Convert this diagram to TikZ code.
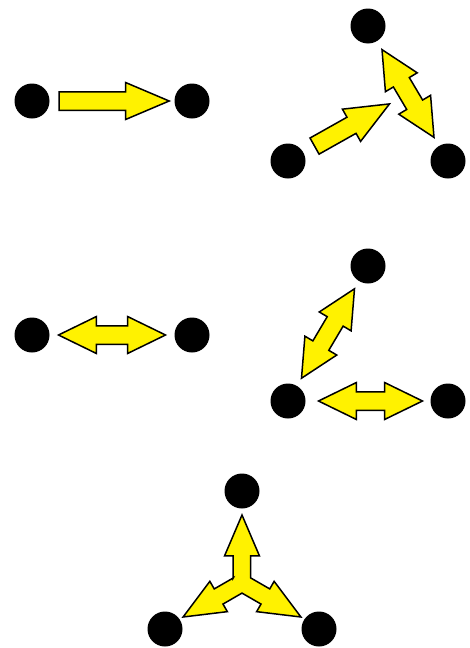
\documentclass[tikz,border=0pt]{standalone}
\usetikzlibrary{shapes.arrows,calc}

\begin{document}
\begin{tikzpicture}[
  x=1pt,y=-1pt,
  dot/.style={circle,fill=black,inner sep=0pt,minimum size=35pt},
  arrowbox/.style={draw=black,line width=1.5pt,fill=yellow,
    inner xsep=0pt,inner ysep=8.5pt},
  fwd/.style={arrowbox,single arrow,minimum width=35.5pt,anchor=tail,
    single arrow head extend=9.25pt,single arrow tip angle=46},
  both/.style={arrowbox,double arrow,minimum width=35.5pt,
    double arrow head extend=9.25pt,double arrow tip angle=52},
  fork/.style={draw=black,line width=1.5pt,fill=yellow,line join=miter}
]
\useasboundingbox (0,0) rectangle (469,648);

% one way
\node[dot] (p1l) at (32,101) {};
\node[dot] (p1r) at (192,101) {};
\path (p1l) -- (p1r)
  node[fwd,pos=0.07,sloped,minimum height=110pt] (a1) {};

% three dots, one pointing in
\node[dot] (p2t) at (368,26) {};
\node[dot] (p2l) at (288,161) {};
\node[dot] (p2r) at (448,161) {};
\path (p2t) -- (p2r)
  node[both,midway,sloped,minimum height=102pt] (a2) {};
\path (p2l) -- (a2.center)
  node[fwd,pos=0.1,sloped,minimum height=86pt] (a3) {};

% both ways
\node[dot] (p3l) at (32,335) {};
\node[dot] (p3r) at (192,335) {};
\path (p3l) -- (p3r)
  node[both,midway,sloped,minimum height=107pt] (a4) {};

% two pairs
\node[dot] (p4t) at (368,266) {};
\node[dot] (p4l) at (288,401) {};
\node[dot] (p4r) at (448,401) {};
\path (p4t) -- (p4l)
  node[both,midway,sloped,minimum height=104pt] (a5) {};
\path (p4l) -- (p4r)
  node[both,pos=0.52,sloped,minimum height=104pt] (a6) {};

% all three
\node[dot] (p5t) at (242,491) {};
\node[dot] (p5l) at (165,629) {};
\node[dot] (p5r) at (319,629) {};
\coordinate (hub) at (barycentric cs:p5t=1,p5l=1,p5r=1);
\begin{scope}[shift={(hub)}]
  \draw[fork] ([rotate=90]5.05,-8.75)
    \foreach \a in {90,-30,-150}{
      -- ([rotate=\a]27,-8.75) -- ([rotate=\a]27,-17.5) -- ([rotate=\a]68,0)
      -- ([rotate=\a]27,17.5) -- ([rotate=\a]27,8.75) -- ([rotate=\a]5.05,8.75)
    } -- cycle;
\end{scope}

\end{tikzpicture}
\end{document}
